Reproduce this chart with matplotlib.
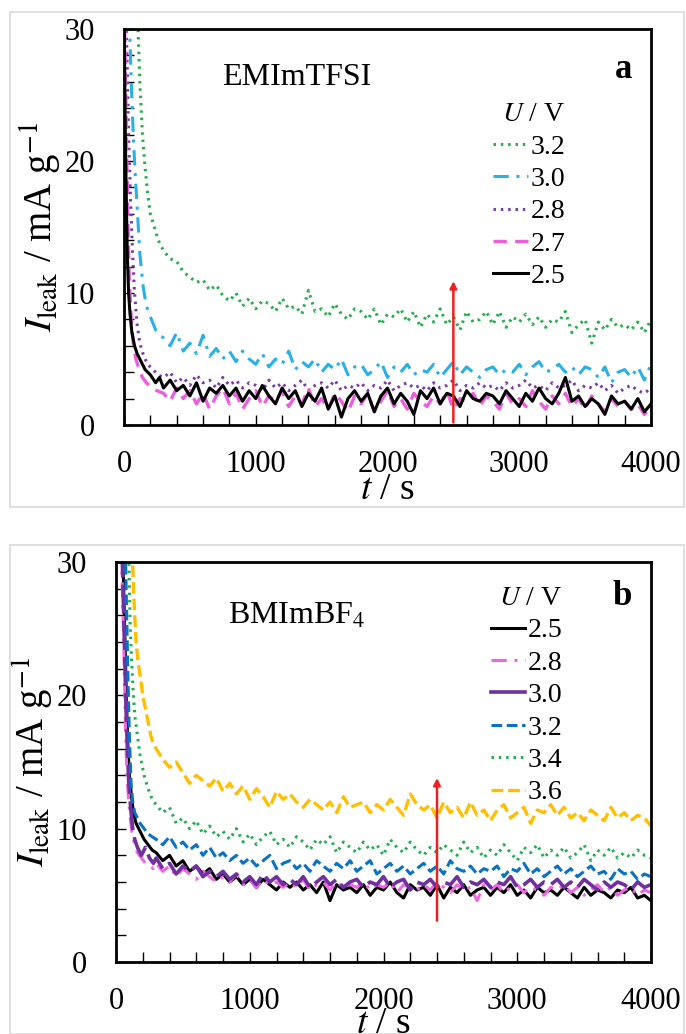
import numpy as np
import matplotlib
matplotlib.use("Agg")
import matplotlib.pyplot as plt
from matplotlib.lines import Line2D
from matplotlib.patches import Rectangle

plt.rcParams['font.family'] = ['Liberation Serif', 'DejaVu Serif']
plt.rcParams['mathtext.fontset'] = 'stix'

# ---------------- data ----------------
t_late = np.arange(300, 4001, 50)  # common sampling grid for the plateau region

# Panel a: EMImTFSI
a_labels = ['3.2', '3.0', '2.8', '2.7', '2.5']
a32_t0 = [105, 120, 140, 160, 180, 200, 230, 260]
a32_i0 = [30.5, 26, 22, 19.5, 17.5, 16, 15, 14]
a32_i = [13.2, 12.6, 12.4, 11.6, 11.2, 10.8, 11.0, 10.2, 10.6, 9.8,
         9.4, 10.0, 9.0, 9.6, 8.8, 9.4, 9.2, 8.6, 9.6, 8.8,
         9.0, 8.4, 10.2, 8.6, 8.8, 8.2, 9.2, 8.4, 8.0, 8.8,
         8.6, 8.0, 8.8, 7.6, 8.4, 8.2, 8.8, 7.8, 8.6, 7.4,
         8.4, 7.8, 8.8, 7.6, 8.2, 7.2, 8.6, 7.8, 8.0, 8.6,
         7.6, 8.6, 7.4, 8.2, 7.8, 8.4, 7.6, 8.2, 7.4, 8.0,
         7.8, 8.6, 7.0, 7.6, 8.0, 6.2, 7.8, 7.2, 8.0, 7.4,
         7.6, 7.2, 7.8, 7.0, 8.0]

a30_t0 = [40, 55, 70, 85, 100, 120, 145, 170, 200, 240, 270]
a30_i0 = [31, 26, 22, 19, 16.5, 13, 10.5, 9.0, 8.2, 7.2, 6.8]
a30_i = [6.6, 6.0, 7.0, 5.6, 6.2, 5.4, 6.8, 5.2, 5.8, 5.0,
         5.6, 4.8, 5.6, 5.0, 4.6, 5.4, 4.4, 5.0, 4.6, 5.6,
         4.2, 4.8, 4.4, 5.0, 4.0, 4.6, 4.2, 5.0, 3.8, 4.4,
         4.6, 3.8, 4.2, 4.8, 3.6, 4.4, 4.0, 4.6, 3.8, 4.2,
         4.0, 4.6, 3.6, 4.2, 4.8, 3.8, 4.4, 4.0, 3.6, 4.2,
         4.4, 3.8, 4.2, 4.0, 4.6, 3.8, 4.4, 4.8, 4.0, 4.2,
         4.6, 4.0, 4.4, 3.8, 4.4, 4.2, 3.6, 4.4, 3.2, 4.0,
         4.2, 3.6, 4.4, 3.4, 4.6]

a28_t0 = [15, 25, 35, 50, 65, 80, 100, 120, 150, 180, 220, 260]
a28_i0 = [31, 27, 22, 17, 13, 10, 7.6, 6.2, 5.2, 4.6, 4.2, 3.8]
a28_i = [3.6, 4.0, 3.2, 3.6, 3.0, 3.8, 3.2, 3.4, 2.8, 3.6,
         3.0, 3.4, 2.8, 3.2, 3.0, 2.6, 3.4, 2.8, 3.2, 2.6,
         3.0, 3.4, 2.6, 3.0, 3.2, 2.8, 3.4, 2.6, 3.0, 2.8,
         3.2, 2.6, 3.0, 2.8, 3.4, 2.6, 3.0, 3.2, 2.8, 3.0,
         2.6, 3.2, 2.8, 3.0, 3.4, 2.6, 3.0, 2.8, 3.2, 2.8,
         3.0, 2.6, 3.2, 2.8, 3.0, 3.4, 2.8, 3.0, 2.6, 3.2,
         2.8, 3.0, 3.4, 2.6, 3.0, 2.8, 3.2, 2.6, 3.0, 2.4,
         2.8, 3.0, 2.6, 2.4, 2.8]

a27_t0 = [5, 12, 20, 30, 40, 55, 70, 90, 115, 140, 170, 210, 250]
a27_i0 = [30, 26, 21, 15, 11, 8, 6.2, 5.0, 4.2, 3.6, 3.2, 2.8, 2.6]
a27_i = [2.4, 1.8, 2.8, 2.0, 2.6, 1.6, 2.4, 1.2, 2.2, 2.8,
         1.6, 2.4, 1.2, 2.0, 2.6, 1.4, 2.2, 1.8, 2.6, 1.4,
         2.2, 1.6, 2.8, 1.4, 2.0, 1.2, 2.4, 1.8, 1.0, 2.2,
         1.6, 2.4, 1.0, 1.8, 2.6, 1.4, 2.0, 1.2, 2.4, 1.8,
         1.4, 2.2, 1.6, 2.6, 1.2, 2.0, 1.8, 2.4, 1.4, 2.2,
         1.8, 1.2, 2.4, 1.6, 2.0, 1.4, 2.6, 1.8, 1.2, 2.2,
         1.6, 2.4, 1.4, 2.0, 1.2, 2.2, 1.6, 1.0, 2.0, 1.4,
         1.8, 1.2, 1.6, 0.8, 1.4]

a25_t0 = [0, 5, 10, 18, 25, 35, 45, 60, 80, 100, 130, 160, 200, 240, 270]
a25_i0 = [30, 27, 22, 17, 13, 10, 8.5, 7.0, 6.0, 5.4, 4.8, 4.2, 3.8, 3.2, 3.6]
a25_i = [2.8, 3.4, 2.6, 3.0, 2.2, 3.2, 1.8, 2.8, 2.4, 3.0,
         2.2, 2.8, 1.8, 2.6, 2.0, 3.0, 2.2, 1.6, 2.8, 2.0,
         2.6, 1.4, 2.4, 1.8, 2.8, 1.2, 2.2, 0.6, 2.0, 2.6,
         1.8, 2.4, 1.0, 2.2, 2.8, 1.6, 2.4, 1.8, 0.8, 2.6,
         2.0, 2.8, 1.6, 2.4, 2.2, 1.4, 2.6, 2.0, 1.8, 2.4,
         2.2, 1.6, 2.6, 2.0, 1.4, 2.4, 1.8, 2.8, 2.0, 1.6,
         2.4, 3.6, 1.8, 2.2, 1.4, 2.0, 1.6, 0.8, 2.2, 1.6,
         1.8, 1.2, 2.0, 1.0, 1.6]

# Panel b: BMImBF4
b_labels = ['2.5', '2.8', '3.0', '3.2', '3.4', '3.6']
b25_t0 = [50, 60, 70, 80, 90, 100, 115, 130, 150, 180, 210, 240, 270]
b25_i0 = [31, 27, 23, 19, 16, 14, 12.5, 11.2, 10.4, 9.8, 9.2, 8.8, 8.4]
b25_i = [8.2, 7.6, 8.0, 7.2, 7.6, 6.8, 7.2, 6.6, 7.0, 6.2,
         6.6, 6.0, 6.4, 5.8, 6.2, 5.6, 6.2, 5.8, 5.4, 6.0,
         5.6, 6.0, 5.4, 5.8, 5.2, 6.0, 4.6, 5.8, 5.4, 5.6,
         5.2, 5.8, 5.0, 5.6, 5.4, 6.0, 5.2, 4.8, 5.8, 5.4,
         5.6, 5.0, 5.8, 4.8, 5.6, 5.2, 5.8, 5.0, 5.4, 5.6,
         5.0, 5.6, 5.2, 5.8, 5.0, 5.4, 4.8, 5.6, 5.2, 5.4,
         5.0, 5.6, 5.2, 4.8, 5.6, 5.0, 5.4, 5.2, 4.8, 5.4,
         5.2, 5.6, 4.8, 5.0, 4.6]

b28_t0 = [40, 50, 60, 70, 80, 95, 110, 125, 140, 160, 190, 220, 250, 280]
b28_i0 = [31, 27, 23, 18, 14.5, 12, 10.4, 9.4, 8.8, 8.2, 7.8, 7.4, 7.2, 7.0]
b28_i = [7.4, 6.8, 7.2, 6.4, 7.0, 6.6, 6.2, 6.8, 6.4, 6.0,
         6.4, 6.0, 6.6, 5.8, 6.2, 5.6, 6.2, 5.8, 6.0, 5.6,
         6.0, 5.6, 6.2, 5.4, 5.8, 6.0, 5.4, 6.0, 5.6, 5.8,
         5.6, 6.0, 5.4, 5.8, 5.6, 6.0, 5.2, 5.8, 5.6, 5.4,
         5.8, 5.4, 6.0, 5.6, 5.2, 5.8, 5.4, 5.6, 4.6, 5.8,
         5.4, 5.8, 5.2, 5.6, 5.8, 5.2, 5.6, 5.4, 5.0, 5.6,
         5.4, 5.8, 5.2, 5.6, 5.0, 5.4, 5.8, 5.2, 5.6, 5.0,
         5.4, 5.6, 5.0, 5.4, 5.2]

b30_t0 = [45, 55, 65, 75, 85, 95, 110, 125, 140, 160, 190, 220, 250, 280]
b30_i0 = [31, 27, 23, 19, 16, 13.5, 11.5, 10.0, 9.2, 8.6, 8.0, 8.6, 7.8, 7.4]
b30_i = [7.8, 7.0, 7.4, 6.6, 7.2, 6.8, 7.2, 6.4, 6.8, 6.4,
         6.8, 6.2, 6.6, 6.0, 6.4, 5.8, 6.6, 6.0, 6.4, 5.8,
         6.2, 5.8, 6.4, 5.6, 6.0, 6.4, 5.8, 6.2, 5.6, 6.0,
         6.2, 5.6, 6.0, 5.8, 6.4, 5.6, 6.0, 6.2, 5.4, 6.0,
         5.8, 6.2, 5.6, 6.0, 5.8, 6.4, 5.6, 6.0, 5.8, 6.2,
         5.6, 6.0, 5.8, 6.4, 5.6, 5.8, 6.2, 5.6, 6.0, 5.8,
         6.2, 5.6, 6.0, 5.6, 6.2, 5.8, 5.4, 6.0, 5.6, 6.0,
         5.8, 5.4, 6.0, 5.6, 5.8]

b32_t0 = [70, 80, 90, 100, 112, 125, 140, 160, 180, 210, 240, 270]
b32_i0 = [31, 26, 21, 17, 13.5, 12, 11.2, 10.8, 10.4, 10.0, 9.6, 9.4]
b32_i = [9.2, 8.8, 9.4, 8.6, 9.0, 8.4, 8.8, 8.0, 8.6, 7.8,
         8.2, 7.6, 8.0, 7.4, 7.8, 7.2, 7.6, 8.0, 7.0, 7.4,
         7.6, 7.0, 7.4, 6.8, 7.6, 7.2, 6.8, 7.4, 7.0, 7.6,
         6.8, 7.2, 7.6, 6.6, 7.0, 7.4, 6.8, 7.2, 6.6, 7.0,
         7.4, 6.8, 7.2, 6.6, 7.6, 7.0, 6.8, 7.2, 6.6, 7.0,
         6.8, 7.2, 6.4, 7.0, 6.8, 7.4, 6.6, 7.0, 6.4, 6.8,
         7.2, 6.6, 7.0, 6.4, 6.8, 7.2, 6.6, 6.8, 6.2, 7.0,
         6.6, 6.8, 6.2, 6.6, 6.4]

b34_t0 = [95, 105, 115, 127, 140, 160, 180, 210, 240, 270]
b34_i0 = [31, 25.5, 23, 20.5, 18.5, 17, 15.5, 14, 13, 12.2]
b34_i = [11.8, 11.2, 11.6, 10.4, 10.8, 10.0, 10.6, 9.6, 10.2, 9.4,
         9.8, 9.2, 10.0, 9.0, 9.6, 8.8, 9.4, 9.8, 8.8, 9.2,
         8.6, 9.4, 9.0, 8.4, 9.2, 8.8, 9.4, 8.2, 9.0, 8.6,
         8.2, 9.0, 8.4, 8.8, 8.0, 9.2, 8.6, 8.2, 9.0, 8.4,
         8.0, 8.6, 8.2, 8.8, 8.4, 8.0, 9.0, 8.2, 8.6, 7.8,
         8.4, 8.0, 8.8, 8.2, 7.6, 8.6, 8.2, 8.8, 7.8, 8.4,
         8.0, 8.6, 7.8, 8.2, 8.8, 7.6, 8.4, 8.0, 8.6, 7.8,
         8.2, 7.8, 8.4, 8.0, 7.8]

b36_t0 = [120, 135, 150, 165, 180, 200, 230, 260, 280]
b36_i0 = [31, 27, 24, 22.5, 21.5, 20, 18.5, 17, 16.3]
b36_i = [16.0, 15.2, 14.6, 15.0, 14.2, 13.4, 14.0, 13.6, 13.2, 13.8,
         12.8, 13.4, 12.6, 13.2, 12.2, 13.0, 12.4, 11.6, 12.8, 12.2,
         12.6, 12.0, 11.6, 12.2, 11.8, 11.4, 12.0, 11.2, 12.4, 11.6,
         11.8, 12.0, 11.2, 11.8, 11.4, 12.2, 11.6, 11.0, 12.6, 11.8,
         11.4, 11.8, 10.8, 12.0, 11.2, 11.6, 10.8, 12.0, 11.0, 11.4,
         10.6, 11.4, 11.8, 10.8, 11.2, 11.6, 10.4, 11.4, 11.2, 11.8,
         11.0, 11.6, 10.8, 11.2, 10.6, 11.4, 11.0, 10.6, 11.6, 10.8,
         11.2, 10.6, 11.0, 10.8, 10.2]

arrow_a = (2500, 0.2, 10.9)
arrow_b = (2400, 3.1, 13.8)

# ---------------- figure ----------------
W, H = 686, 1034
fig = plt.figure(figsize=(W / 100, H / 100), dpi=100)

# light frames around each panel
for (x0, y0, x1, y1) in [(10, 12, 684, 507), (10, 545, 684, 1034)]:
    fig.patches.append(Rectangle((x0 / W, 1 - y1 / H), (x1 - x0) / W, (y1 - y0) / H,
                                 transform=fig.transFigure, fill=False,
                                 edgecolor='#d9d9d9', linewidth=1.2))

def px_axes(l, t, r, b):
    return fig.add_axes([l / W, 1 - b / H, (r - l) / W, (b - t) / H])

ax_a = px_axes(124, 29, 651, 425)
ax_b = px_axes(116, 562, 651, 962)

TICK_FS = 22
LEG_FS = 20

def style_axes(ax, xpad):
    ax.set_xlim(0, 4000)
    ax.set_ylim(0, 30)
    ax.set_xticks([0, 1000, 2000, 3000, 4000])
    ax.set_xticks(np.arange(0, 4001, 200), minor=True)
    ax.set_yticks([0, 10, 20, 30])
    ax.set_yticks(np.arange(0, 31, 2), minor=True)
    ax.tick_params(which='both', direction='in', top=False, right=False,
                   labelsize=TICK_FS, width=1.0)
    ax.tick_params(which='major', length=7)
    ax.tick_params(which='minor', length=7)
    ax.tick_params(axis='x', which='major', pad=18)
    ax.tick_params(axis='y', which='major', pad=21)
    for s in ax.spines.values():
        s.set_linewidth(2.0)
    ax.set_xlabel('$t$ / s', fontsize=27, labelpad=xpad)
    ax.set_ylabel(r'$I_{\rm leak}$ / mA g$^{-1}$', fontsize=28, labelpad=0)

def series(t0, i0, il):
    return np.concatenate([t0, t_late]), np.concatenate([i0, il])

# panel a
a_specs = [
    (a32_t0, a32_i0, a32_i, '#22b04b', (0, (0.8, 1.6)), 2.2),
    (a30_t0, a30_i0, a30_i, '#29b0e6', (0, (5, 2.5, 1, 2.5)), 2.2),
    (a28_t0, a28_i0, a28_i, '#7a3aa8', (0, (0.8, 1.6)), 2.2),
    (a27_t0, a27_i0, a27_i, '#ec5fdc', (0, (4, 2.5)), 2.4),
    (a25_t0, a25_i0, a25_i, '#000000', '-', 2.2),
]
handles_a = []
for (t0, i0, il, c, ls, lw), lab in zip(a_specs, a_labels):
    tt, ii = series(t0, i0, il)
    ax_a.plot(tt, ii, color=c, ls=ls, lw=lw)
    handles_a.append(Line2D([], [], color=c, ls=ls, lw=lw, label=lab))
style_axes(ax_a, -5)
ax_a.annotate('', xy=(arrow_a[0], arrow_a[2]), xytext=(arrow_a[0], arrow_a[1]),
              arrowprops=dict(arrowstyle='-|>', color='#ee2020', lw=1.8,
                              mutation_scale=10, shrinkA=0, shrinkB=0))
ax_a.text(0.186, 0.915, 'EMImTFSI', transform=ax_a.transAxes, fontsize=23,
          ha='left', va='top')
ax_a.text(0.965, 0.94, 'a', transform=ax_a.transAxes, fontsize=25,
          fontweight='bold', ha='right', va='top')
leg_a = ax_a.legend(handles=handles_a, title='$U$ / V', loc='upper left',
                    bbox_to_anchor=(0.70, 0.815), frameon=False, fontsize=LEG_FS,
                    title_fontsize=LEG_FS, handlelength=1.25, handletextpad=0.1,
                    labelspacing=0.25, borderpad=0, borderaxespad=0)
leg_a._legend_box.align = 'right'

# panel b
b_specs = [
    (b25_t0, b25_i0, b25_i, '#000000', '-', 2.2),
    (b28_t0, b28_i0, b28_i, '#ee66e0', (0, (5, 2.5, 1, 2.5)), 2.2),
    (b30_t0, b30_i0, b30_i, '#7030a0', (0, (8, 2)), 2.6),
    (b32_t0, b32_i0, b32_i, '#0a72c4', (0, (3.5, 1.5)), 2.2),
    (b34_t0, b34_i0, b34_i, '#1cb050', (0, (0.8, 1.6)), 2.2),
    (b36_t0, b36_i0, b36_i, '#ffbf00', (0, (3.5, 1.5)), 2.4),
]
handles_b = []
for (t0, i0, il, c, ls, lw), lab in zip(b_specs, b_labels):
    tt, ii = series(t0, i0, il)
    ax_b.plot(tt, ii, color=c, ls=ls, lw=lw)
    hls = '-' if lab in ('2.5', '3.0') else ls
    handles_b.append(Line2D([], [], color=c, ls=hls, lw=lw, label=lab))
style_axes(ax_b, -7)
ax_b.annotate('', xy=(arrow_b[0], arrow_b[2]), xytext=(arrow_b[0], arrow_b[1]),
              arrowprops=dict(arrowstyle='-|>', color='#ee2020', lw=1.8,
                              mutation_scale=10, shrinkA=0, shrinkB=0))
ax_b.text(0.21, 0.90, 'BMImBF$_4$', transform=ax_b.transAxes, fontsize=23,
          ha='left', va='top')
ax_b.text(0.965, 0.955, 'b', transform=ax_b.transAxes, fontsize=25,
          fontweight='bold', ha='right', va='top')
leg_b = ax_b.legend(handles=handles_b, title='$U$ / V', loc='upper left',
                    bbox_to_anchor=(0.70, 0.94), frameon=False, fontsize=LEG_FS,
                    title_fontsize=LEG_FS, handlelength=1.25, handletextpad=0.1,
                    labelspacing=0.25, borderpad=0, borderaxespad=0)
leg_b._legend_box.align = 'right'

fig.savefig('out.png', dpi=100)
